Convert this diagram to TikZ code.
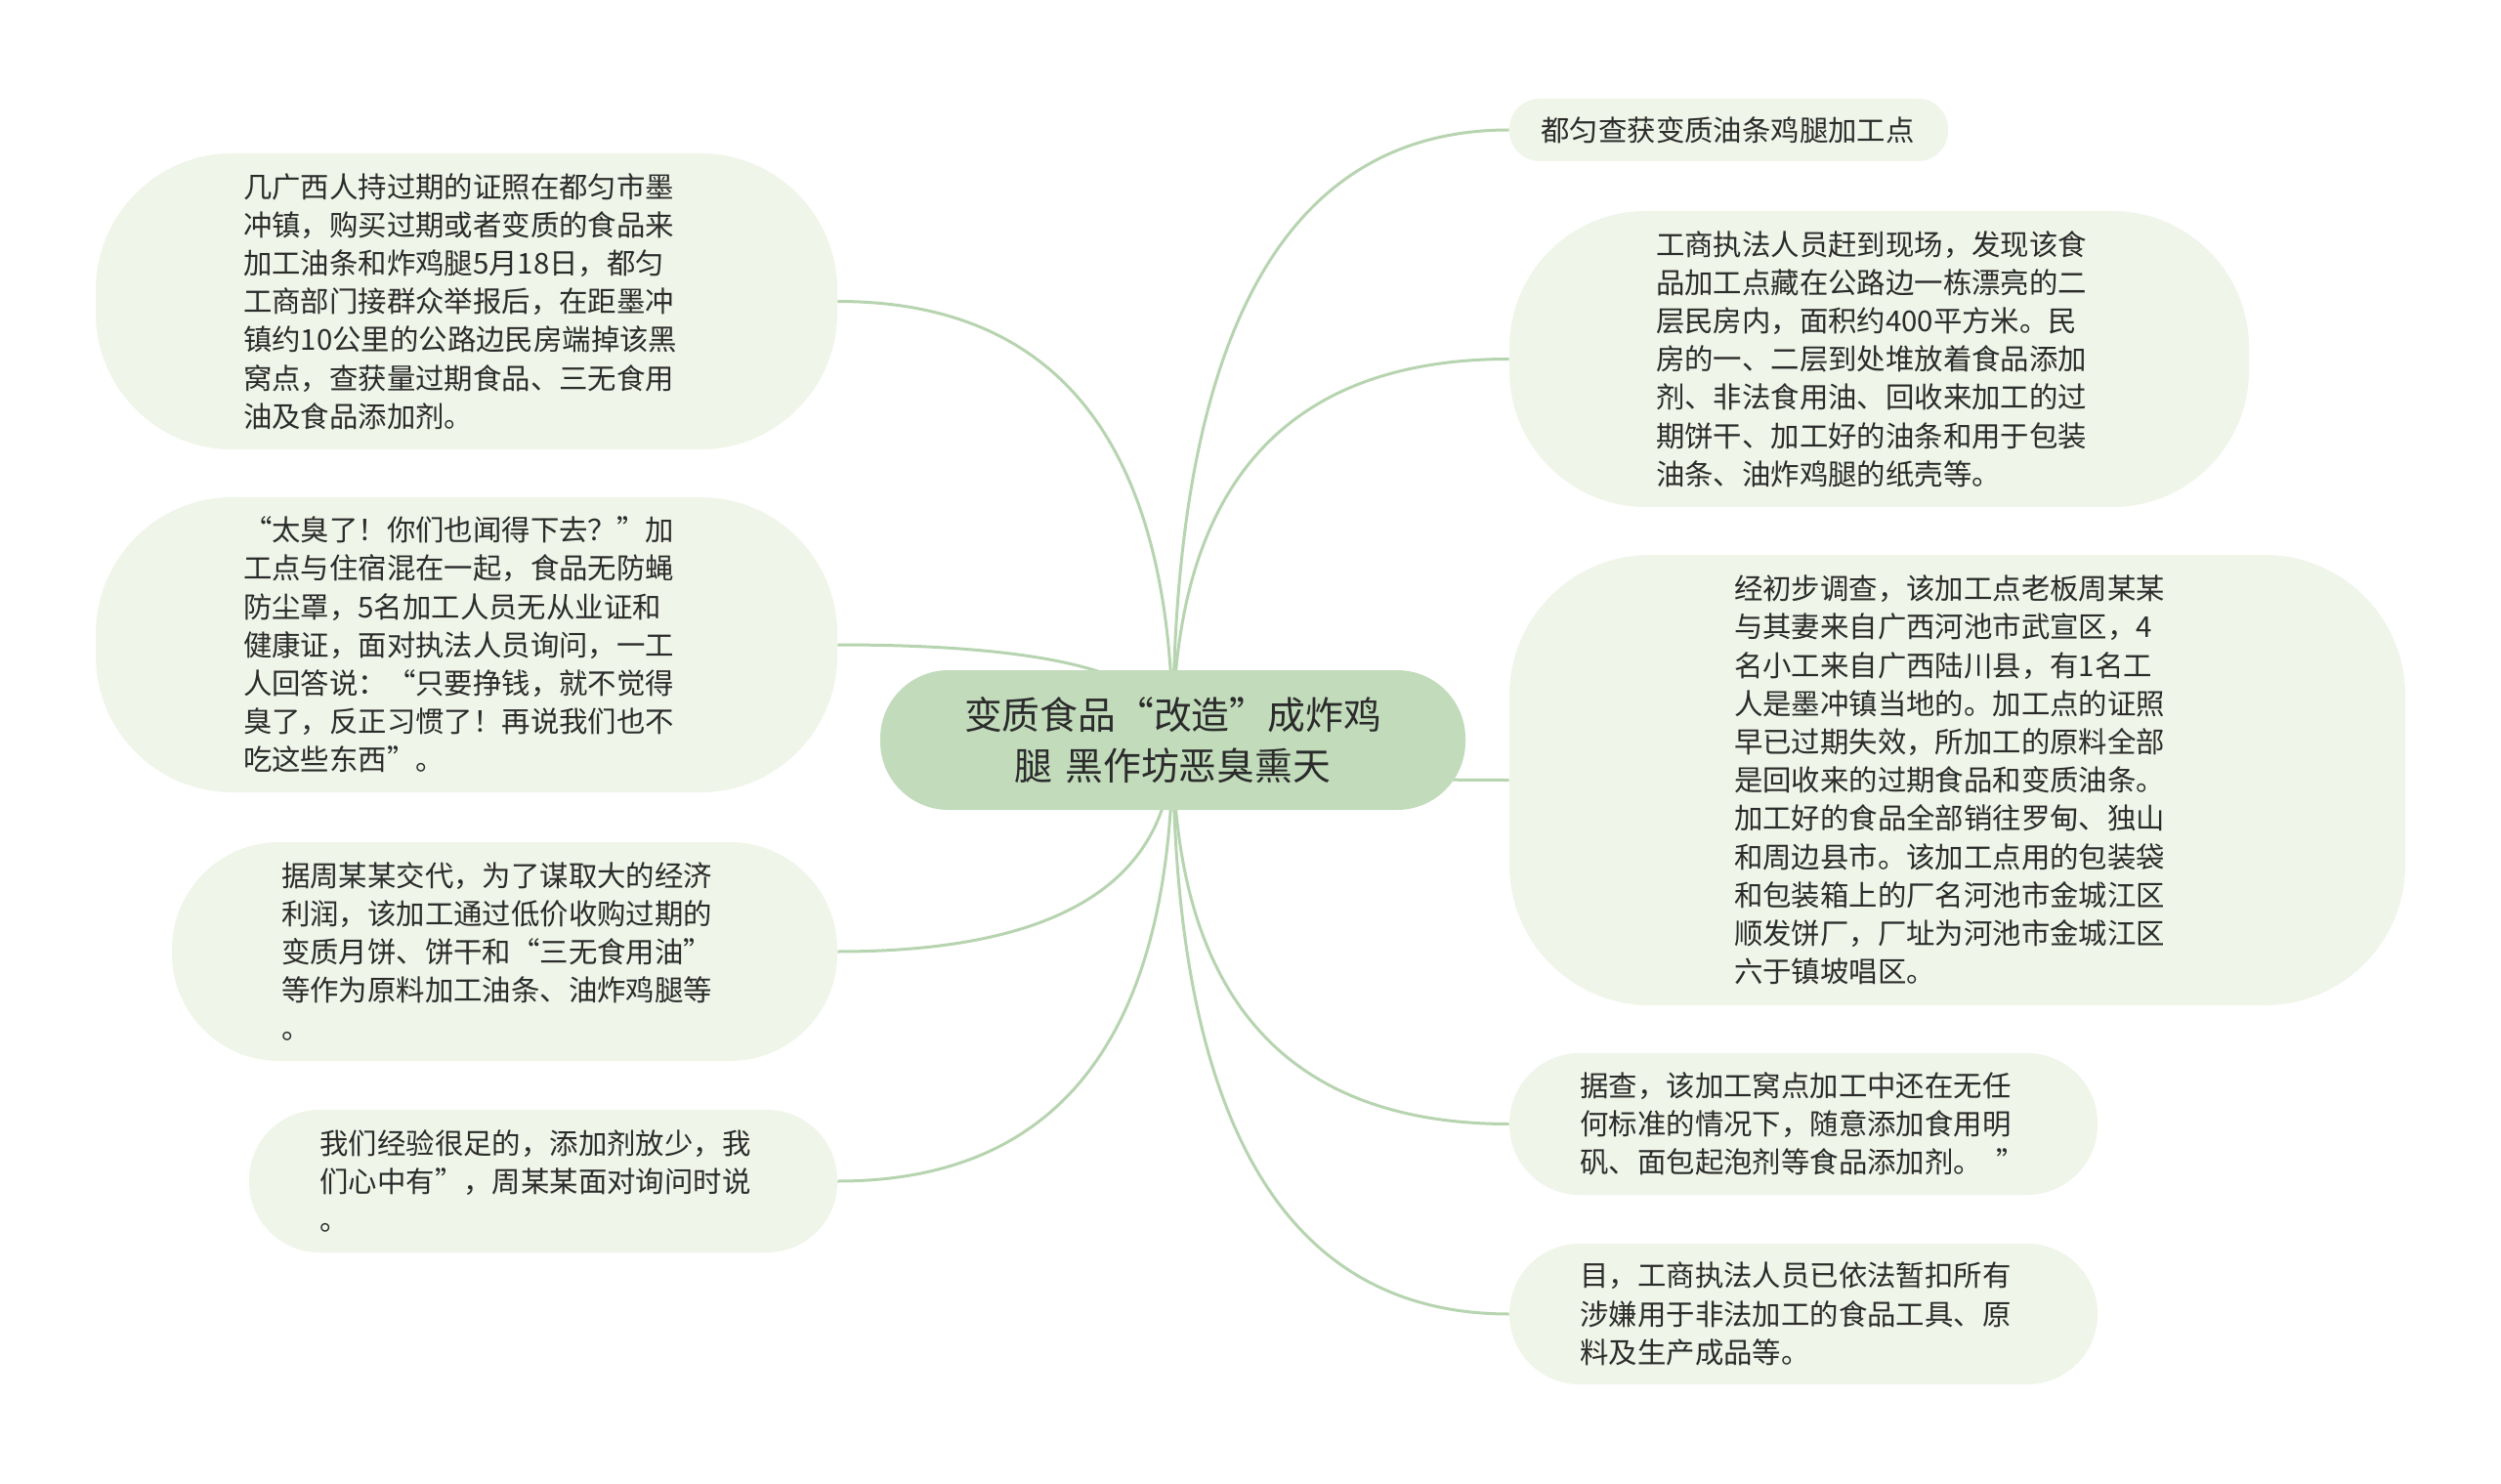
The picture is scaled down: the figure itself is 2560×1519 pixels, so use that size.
\documentclass[tikz,border=0pt]{standalone}
\usepackage{fontspec}
\setmainfont{Noto Sans CJK SC}
\newfontfamily\fwq[CharacterWidth=Full]{Noto Sans CJK SC}
\newcommand\LQ{{\fwq “}}
\newcommand\RQ{{\fwq ”}}
\usetikzlibrary{calc}
\definecolor{leaffill}{HTML}{EFF5E8}
\definecolor{rootfill}{HTML}{C1DBBB}
\definecolor{linkcol}{HTML}{B7D4B0}
\definecolor{txt}{HTML}{2B2B2B}
\pgfdeclarelayer{bg}
\pgfsetlayers{bg,main}
\newcommand\mmlink[1]{\draw[link] (c.center) .. controls ($(c.center)!0.6667!(c.center |- #1)$) and ($(#1)!0.6667!(c.center |- #1)$) .. (#1);}
\begin{document}
\begin{tikzpicture}[x=0.5pt,y=-0.5pt,
  leaf/.style={rectangle, fill=leaffill, rounded corners=#1, text=txt, align=left,
    font=\fontsize{14.7}{19.6}\selectfont, inner sep=0pt, text width=228.5pt},
  root/.style={rectangle, fill=rootfill, rounded corners=35pt, text=txt, align=center,
    font=\fontsize{19.4}{26}\selectfont, inner sep=0pt, text width=260pt},
  link/.style={draw=linkcol, line width=1.5pt}]
\useasboundingbox (0,0) rectangle (2560,1519);

\node[root, minimum width=299.5pt, minimum height=71.5pt] (c) at (1200.5,757.5)
  {变质食品\LQ 改造\RQ 成炸鸡\\腿 黑作坊恶臭熏天};

\node[leaf=70pt, minimum width=379.5pt, minimum height=151.5pt] (l1) at (477.5,308.5)
  {几广西人持过期的证照在都匀市墨\\冲镇，购买过期或者变质的食品来\\加工油条和炸鸡腿5月18日，都匀\\工商部门接群众举报后，在距墨冲\\镇约10公里的公路边民房端掉该黑\\窝点，查获量过期食品、三无食用\\油及食品添加剂。};

\node[leaf=70pt, minimum width=379.5pt, minimum height=151pt] (l2) at (477.5,660)
  {\LQ 太臭了！你们也闻得下去？\RQ 加\\工点与住宿混在一起，食品无防蝇\\防尘罩，5名加工人员无从业证和\\健康证，面对执法人员询问，一工\\人回答说：\LQ 只要挣钱，就不觉得\\臭了，反正习惯了！再说我们也不\\吃这些东西\RQ 。};

\node[leaf=55pt, minimum width=340.5pt, minimum height=112pt] (l3) at (516.5,974)
  {据周某某交代，为了谋取大的经济\\利润，该加工通过低价收购过期的\\变质月饼、饼干和\LQ 三无食用油\RQ\\等作为原料加工油条、油炸鸡腿等\\。};

\node[leaf=36pt, minimum width=301pt, minimum height=73pt] (l4) at (556,1209)
  {我们经验很足的，添加剂放少，我\\们心中有\RQ ，周某某面对询问时说\\。};

\node[leaf=15.5pt, minimum width=224.5pt, minimum height=32pt, text width=192pt] (r1) at (1769.5,133)
  {都匀查获变质油条鸡腿加工点};

\node[leaf=70pt, minimum width=378.5pt, minimum height=151.5pt] (r2) at (1923.5,367.5)
  {工商执法人员赶到现场，发现该食\\品加工点藏在公路边一栋漂亮的二\\层民房内，面积约400平方米。民\\房的一、二层到处堆放着食品添加\\剂、非法食用油、回收来加工的过\\期饼干、加工好的油条和用于包装\\油条、油炸鸡腿的纸壳等。};

\node[leaf=72pt, minimum width=458.5pt, minimum height=230.5pt] (r3) at (2003.5,798.5)
  {经初步调查，该加工点老板周某某\\与其妻来自广西河池市武宣区，4\\名小工来自广西陆川县，有1名工\\人是墨冲镇当地的。加工点的证照\\早已过期失效，所加工的原料全部\\是回收来的过期食品和变质油条。\\加工好的食品全部销往罗甸、独山\\和周边县市。该加工点用的包装袋\\和包装箱上的厂名河池市金城江区\\顺发饼厂，厂址为河池市金城江区\\六于镇坡唱区。};

\node[leaf=36pt, minimum width=301pt, minimum height=72.5pt] (r4) at (1846,1150.5)
  {据查，该加工窝点加工中还在无任\\何标准的情况下，随意添加食用明\\矾、面包起泡剂等食品添加剂。\hspace{0.5em}”};

\node[leaf=36pt, minimum width=301pt, minimum height=72pt] (r5) at (1846,1345)
  {目，工商执法人员已依法暂扣所有\\涉嫌用于非法加工的食品工具、原\\料及生产成品等。};

\begin{pgfonlayer}{bg}
\fill[white] (0,0) rectangle (2560,1519);
\mmlink{l1.east}
\mmlink{l2.east}
\mmlink{l3.east}
\mmlink{l4.east}
\mmlink{r1.west}
\mmlink{r2.west}
\mmlink{r3.west}
\mmlink{r4.west}
\mmlink{r5.west}
\end{pgfonlayer}
\end{tikzpicture}
\end{document}
